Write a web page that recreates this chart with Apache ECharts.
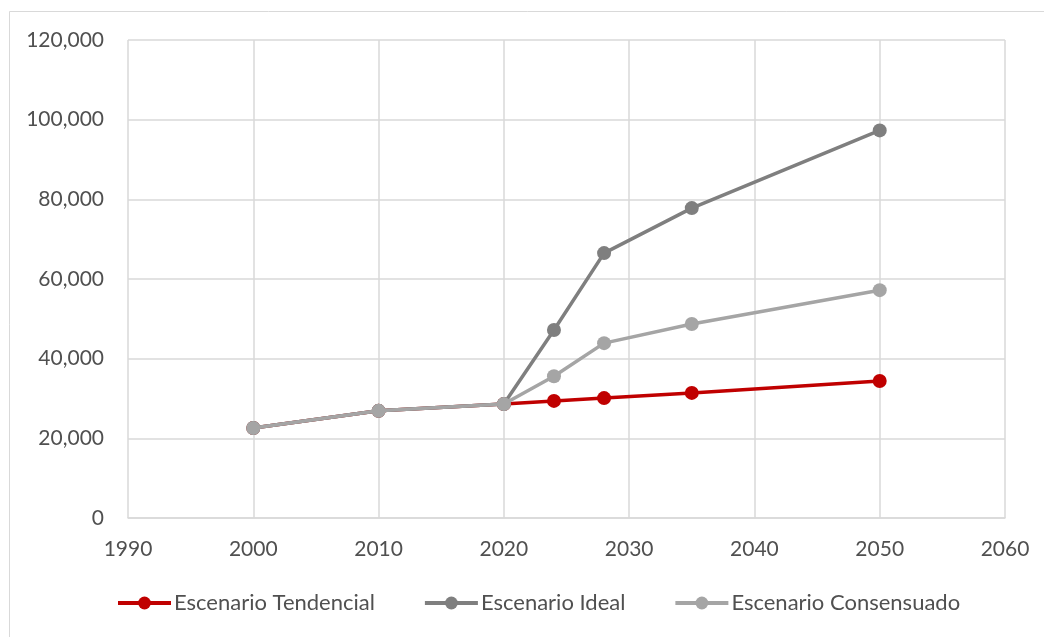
<!DOCTYPE html>
<html><head><meta charset="utf-8">
<script src="https://cdn.jsdelivr.net/npm/echarts@6/dist/echarts.min.js"></script>
<style>html,body{margin:0;padding:0;background:#fff}#c{width:1044px;height:637px}</style>
</head><body><div id="c"></div>
<script>
const years = [2000, 2010, 2020, 2024, 2028, 2035, 2050];
const tendencial = [22600, 26900, 28600, 29400, 30100, 31400, 34400];
const ideal = [22600, 26900, 28600, 47200, 66500, 77800, 97300];
const consensuado = [22600, 26900, 28600, 35600, 43900, 48700, 57200];
const seriesNames = ['Escenario Tendencial', 'Escenario Ideal', 'Escenario Consensuado'];
const colors = ['#C00000', '#7F7F7F', '#A5A5A5'];
const FONT = 'Lato';
const pairs = v => years.map((y, i) => [y, v[i]]);
const chart = echarts.init(document.getElementById('c'), null, {renderer: 'canvas'});
chart.setOption({
  animation: false,
  backgroundColor: '#fff',
  graphic: [{type: 'rect', shape: {x: 9.5, y: 11.5, width: 1100, height: 700}, style: {fill: 'none', stroke: '#d9d9d9', lineWidth: 1}, z: -1}],
  grid: {left: 128, right: 39, top: 40, bottom: 119},
  legend: {
    top: 587, left: 111, itemGap: 48, itemWidth: 53, itemHeight: 16,
    lineStyle: {width: 4},
    textStyle: {fontFamily: FONT, fontSize: 22, color: '#505050', padding: [0, 0, 0, -2]},
    data: seriesNames
  },
  xAxis: {
    type: 'value', min: 1990, max: 2060, interval: 10,
    axisLine: {show: true, lineStyle: {color: '#d9d9d9', width: 1.5}},
    axisTick: {show: false},
    splitLine: {show: true, lineStyle: {color: '#d9d9d9', width: 1.5}},
    axisLabel: {fontFamily: FONT, fontSize: 21, color: '#505050', margin: 21, formatter: v => String(v)}
  },
  yAxis: {
    type: 'value', min: 0, max: 120000, interval: 20000,
    axisLine: {show: false}, axisTick: {show: false},
    splitLine: {show: true, lineStyle: {color: '#d9d9d9', width: 1.5}},
    axisLabel: {fontFamily: FONT, fontSize: 21, color: '#505050', margin: 24,
      formatter: v => v.toLocaleString('en-US')}
  },
  series: [tendencial, ideal, consensuado].map((v, i) => ({
    name: seriesNames[i], type: 'line', data: pairs(v),
    symbol: 'circle', symbolSize: 14,
    lineStyle: {color: colors[i], width: 3.5},
    itemStyle: {color: colors[i]},
    z: 2 + i
  }))
});
</script></body></html>
